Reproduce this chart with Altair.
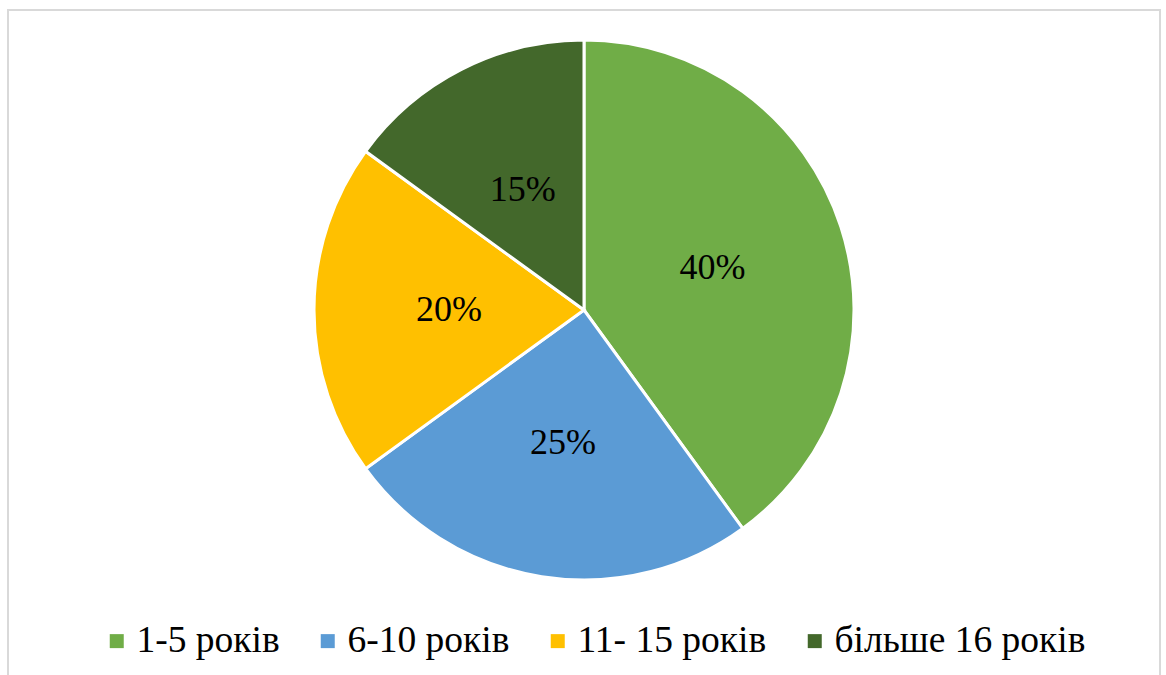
import altair as alt
import pandas as pd

# Stazh groups and their shares (percent)
categories = ["1-5 років", "6-10 років", "11- 15 років", "більше 16 років"]
shares = [40, 25, 20, 15]
colors = ["#70AD47", "#5B9BD5", "#FFC000", "#43682B"]

df = pd.DataFrame({
    "group": categories,
    "share": shares,
    "order": list(range(len(categories))),
})
df["label"] = df["share"].astype(str) + "%"

FONT = "Liberation Serif"
cx, cy = 576, 300

base = alt.Chart(df).encode(
    theta=alt.Theta("share:Q", stack=True),
    order=alt.Order("order:Q"),
    x=alt.value(cx),
    y=alt.value(cy),
)

pie = base.mark_arc(radius=270, stroke="white", strokeWidth=3).encode(
    color=alt.Color(
        "group:N",
        sort=categories,
        scale=alt.Scale(domain=categories, range=colors),
        legend=alt.Legend(
            title=None,
            orient="none",
            legendX=90,
            legendY=612,
            direction="horizontal",
            columns=4,
            symbolType="square",
            symbolSize=196,
            symbolStrokeWidth=0,
            symbolOpacity=1,
            labelFontSize=37.5,
            labelColor="black",
            labelOffset=1,
            columnPadding=29,
            labelLimit=400,
        ),
    )
)

labels = base.mark_text(radius=135, fontSize=36, color="black", align="center").encode(
    text="label:N"
)

chart = (
    alt.layer(pie, labels)
    .properties(
        width=1152,
        height=675,
        padding={"left": 8, "top": 10, "right": 6, "bottom": 0},
        autosize=alt.AutoSizeParams(type="none"),
    )
    .configure(font=FONT)
    .configure_text(font=FONT)
    .configure_legend(labelFont=FONT)
    .configure_view(stroke="#D9D9D9", strokeWidth=2)
)

chart.save("out.html", embed_options={"renderer": "svg", "actions": False})
